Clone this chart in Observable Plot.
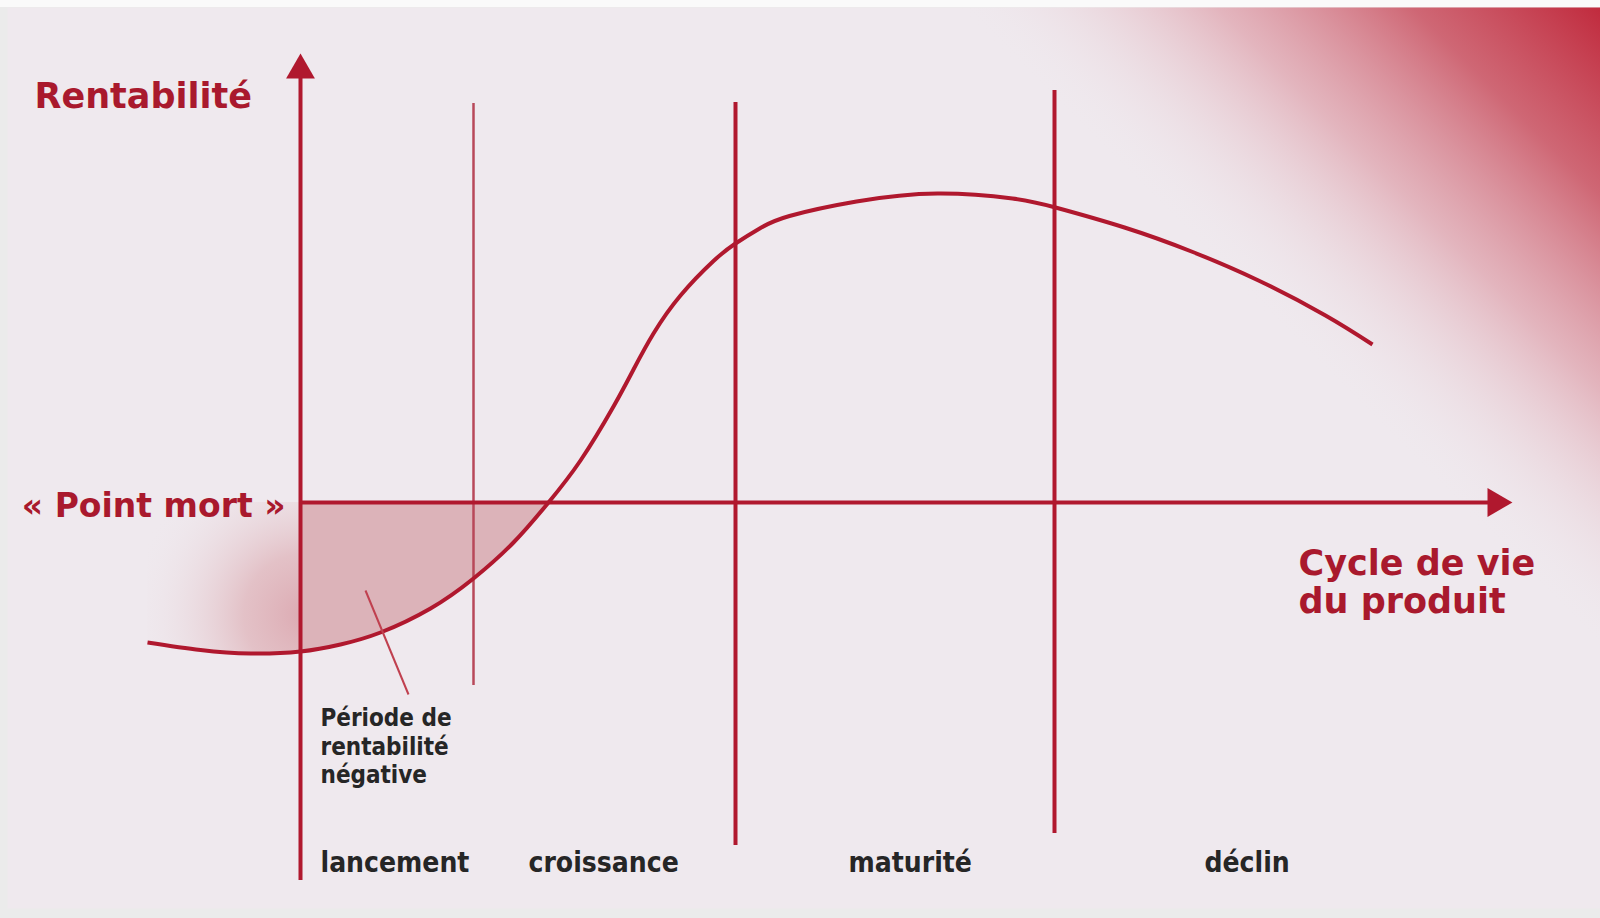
<!DOCTYPE html>
<html><head><meta charset="utf-8">
<script src="https://cdn.jsdelivr.net/npm/d3@7"></script>
<script src="https://cdn.jsdelivr.net/npm/@observablehq/plot@0.6"></script>
<style>
html,body{margin:0;padding:0;background:#fff;}
#chart svg{display:block;}
</style>
</head><body><div id="chart"></div>
<script>
// ---- data (x = product life time, y = profitability; 0 = break-even) ----
const curveX = [-3.06, -2.0, -1.0, 0, 0.8, 1.6, 2.6, 3.46, 4.26, 4.96, 5.6, 6.26, 6.66, 7.06, 7.6, 8.26, 8.7, 9.2, 9.78, 11.12, 12.74, 14.24, 15.1, 16.48, 17.82, 19.16, 20.5, 21.44];
const curveY = [-2.80, -2.95, -3.02, -2.98, -2.84, -2.60, -2.12, -1.52, -0.80, 0, 0.84, 1.92, 2.66, 3.38, 4.14, 4.83, 5.18, 5.49, 5.73, 6.02, 6.18, 6.08, 5.9, 5.5, 5.02, 4.44, 3.74, 3.16];
const breakEvenX = 4.96;

const phaseLineX = [3.46, 8.7, 15.08];
const phaseLineTop = [7.98, 8.0, 8.24];
const phaseLineBottom = [-3.66, -6.86, -6.62];

const phaseNames = ["lancement", "croissance", "maturité", "déclin"];
const phaseLabelX = [0.4, 4.56, 10.96, 18.08];
const phaseLabelY = -7.22;

const axisXEnd = 24.24;
const axisYTop = 8.98;
const axisYBottom = -7.56;

const yTitle = "Rentabilité";
const xTitle = "Cycle de vie\ndu produit";
const zeroLabel = "« Point mort »";
const noteText = "Période de\nrentabilité\nnégative";
const notePointer = [{x: 1.3, y: -1.76}, {x: 2.16, y: -3.84}];

// ---- build tables ----
const curve = curveX.map((x, i) => ({x, y: curveY[i]}));
const glowPart = curve.filter(d => d.x <= 0);
const negativePart = curve.filter(d => d.x >= 0 && d.x <= breakEvenX);
const phaseLines = phaseLineX.map((x, i) => ({x, top: phaseLineTop[i], bottom: phaseLineBottom[i], kind: i === 0 ? "thin" : "thick"}));
const phaseLabels = phaseNames.map((name, i) => ({name, x: phaseLabelX[i], y: phaseLabelY}));

const RED = "#b0182e";
const TEXTRED = "#a9192d";

const chart = Plot.plot({
  width: 1600,
  height: 918,
  marginLeft: 7, marginTop: 7, marginRight: 0, marginBottom: 10,
  x: {domain: [-5.86, 26], axis: null},
  y: {domain: [-8.12, 9.9], axis: null},
  style: {background: "linear-gradient(to bottom, #fafafa 0 7px, #ebebeb 7px)", fontFamily: "DejaVu Sans"},
  marks: [
    Plot.frame({fill: "#efe9ee", stroke: "none"}),
    Plot.frame({fill: "url(#corner)", stroke: "none"}),
    Plot.areaY(glowPart, {x: "x", y1: "y", y2: 0, curve: "natural", fill: "url(#glow)"}),
    Plot.areaY(negativePart, {x: "x", y1: "y", y2: 0, curve: "natural", fill: "#dcb3b9"}),
    Plot.ruleX(phaseLines.filter(d => d.kind === "thin"), {x: "x", y1: "bottom", y2: "top", stroke: "#b8485a", strokeWidth: 2.5}),
    Plot.ruleX(phaseLines.filter(d => d.kind === "thick"), {x: "x", y1: "bottom", y2: "top", stroke: RED, strokeWidth: 4}),
    Plot.ruleY([0], {x1: 0, x2: axisXEnd - 0.4, stroke: RED, strokeWidth: 4}),
    Plot.ruleX([0], {y1: axisYBottom, y2: axisYTop - 0.4, stroke: RED, strokeWidth: 4}),
    Plot.line(curve, {x: "x", y: "y", curve: "natural", stroke: RED, strokeWidth: 4, strokeLinecap: "butt"}),
    Plot.link([notePointer], {x1: d => d[0].x, y1: d => d[0].y, x2: d => d[1].x, y2: d => d[1].y, stroke: "#c0404f", strokeWidth: 2}),
    Plot.dot([{x: 0, y: axisYTop}], {x: "x", y: "y", symbol: "triangle", r: 10.7, fill: RED, stroke: "none", dy: 16.7}),
    Plot.dot([{x: axisXEnd, y: 0}], {x: "x", y: "y", symbol: "triangle", r: 10.7, fill: RED, stroke: "none", rotate: 90, dx: -16.7}),
    Plot.text([yTitle], {x: -5.32, y: 8.12, text: d => d, textAnchor: "start", fill: TEXTRED, fontSize: 35, fontWeight: "bold", fontFamily: "DejaVu Sans"}),
    Plot.text([zeroLabel], {x: -0.3, y: -0.08, text: d => d, textAnchor: "end", fill: TEXTRED, fontSize: 33, fontWeight: "bold", fontFamily: "DejaVu Sans"}),
    Plot.text([xTitle], {x: 19.96, y: -1.58, text: d => d, textAnchor: "start", fill: TEXTRED, fontSize: 35, lineHeight: 1.08, fontWeight: "bold", fontFamily: "DejaVu Sans"}),
    Plot.text([noteText], {x: 0.4, y: -4.86, text: d => d, textAnchor: "start", fill: "#262626", fontSize: 24, lineHeight: 1.17, fontWeight: "bold", fontFamily: "DejaVu Sans Condensed"}),
    Plot.text(phaseLabels, {x: "x", y: "y", text: "name", textAnchor: "start", fill: "#262626", fontSize: 28, fontWeight: "bold", fontFamily: "DejaVu Sans Condensed"})
  ]
});

chart.insertAdjacentHTML("afterbegin", `
<defs>
  <linearGradient id="corner" gradientUnits="userSpaceOnUse" x1="1600" y1="0" x2="1275" y2="325">
    <stop offset="0" stop-color="#c0283b" stop-opacity="1"/>
    <stop offset="0.3" stop-color="#c9505f" stop-opacity="0.85"/>
    <stop offset="0.6" stop-color="#d98a96" stop-opacity="0.55"/>
    <stop offset="1" stop-color="#efe9ee" stop-opacity="0"/>
  </linearGradient>
  <radialGradient id="glow" gradientUnits="userSpaceOnUse" cx="305" cy="615" r="175">
    <stop offset="0" stop-color="#dcaab2" stop-opacity="1"/>
    <stop offset="0.35" stop-color="#dfb4ba" stop-opacity="0.75"/>
    <stop offset="1" stop-color="#efe9ee" stop-opacity="0"/>
  </radialGradient>
</defs>`);
document.getElementById("chart").appendChild(chart);
</script>
</body></html>
